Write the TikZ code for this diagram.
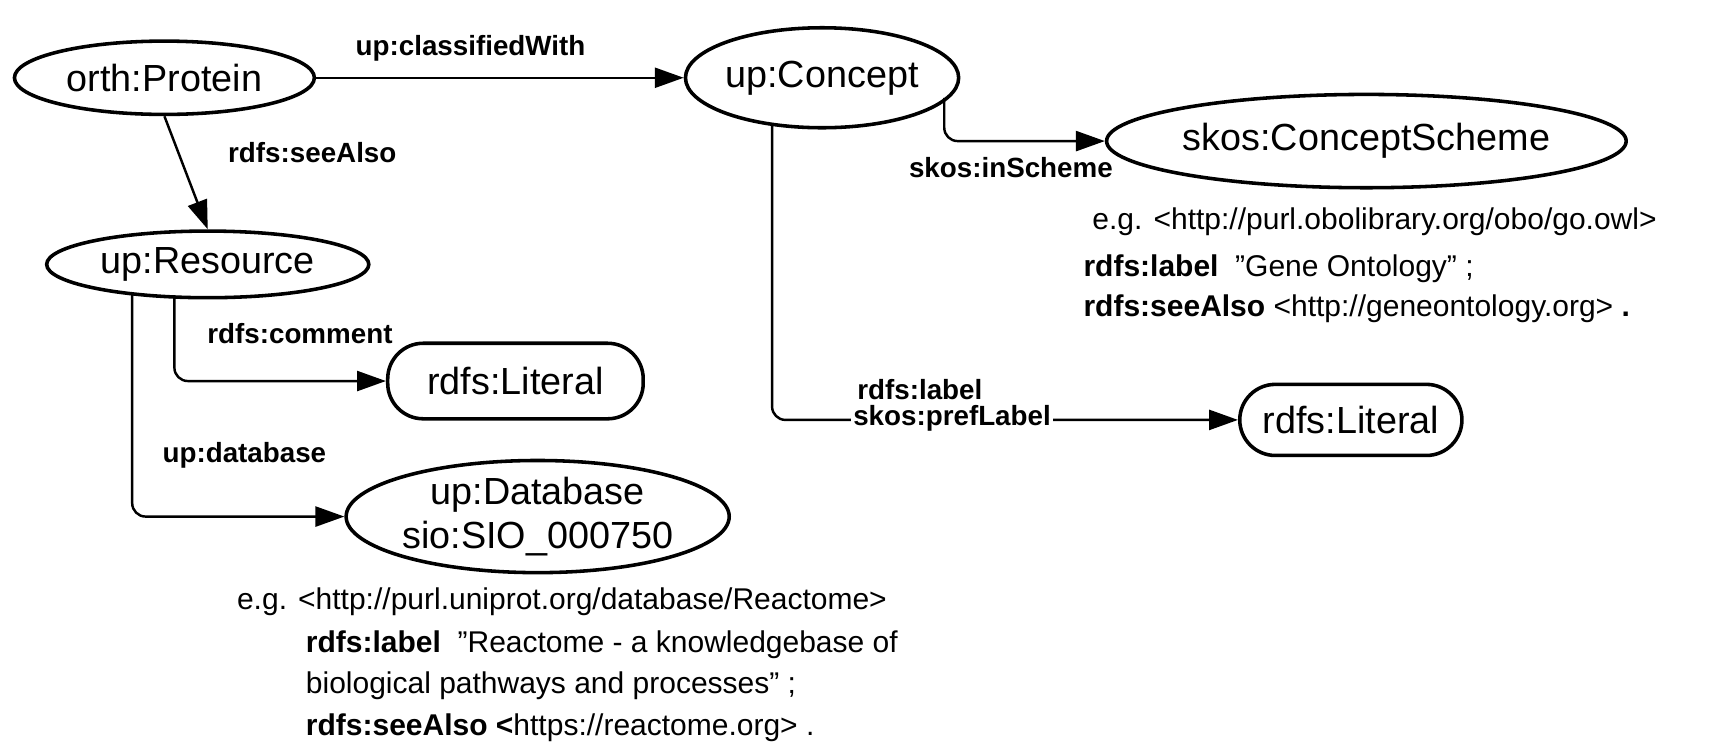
\documentclass[tikz,border=0pt]{standalone}
\usepackage{fontspec}
\setmainfont{Liberation Sans}
\usetikzlibrary{shapes.geometric,arrows.meta}
\newcommand{\dq}{{\char34}}
\begin{document}
\begin{tikzpicture}[x=0.5pt,y=-0.5pt,
  ell/.style={draw,ellipse,line width=1.6pt,inner sep=0pt,font=\fontsize{17}{19}\selectfont},
  lit/.style={draw,rounded corners=16pt,line width=1.6pt,font=\fontsize{17}{19}\selectfont,minimum height=34pt},
  arr/.style={line width=1.1pt,-{Triangle[length=13pt,width=9pt]},rounded corners=6pt},
  lbl/.style={font=\bfseries\fontsize{12.5}{14}\selectfont,inner sep=1pt},
  txt/.style={font=\fontsize{13.5}{15}\selectfont,anchor=west,inner sep=0pt}]
\useasboundingbox (0,0) rectangle (1560,673);
\node[ell,minimum width=135pt,minimum height=33pt] (prot) at (148,70) {orth:Protein};
\node[ell,minimum width=110pt,minimum height=45pt] (conc) at (740,70) {up:Concept};
\node[ell,minimum width=210pt,minimum height=42pt] (sch) at (1230,127) {skos:ConceptScheme};
\node[ell,minimum width=145pt,minimum height=30pt] (res) at (187,238) {up:Resource};
\node[lit,minimum width=115pt] (lit1) at (464,343) {rdfs:Literal};
\node[lit,minimum width=100pt,minimum height=32pt] (lit2) at (1216,378) {rdfs:Literal};
\node[ell,minimum width=155pt,minimum height=48pt,align=center,font=\fontsize{17}{20}\selectfont] (db) at (484,465) {up:Database\\sio:SIO\_000750};
\draw[arr] (prot.east) -- (conc.west) node[lbl,pos=0.42,above=6pt] {up:classifiedWith};
\draw[arr] (prot.south) -- (res.north);
\node[lbl,anchor=west] at (203,137) {rdfs:seeAlso};
\coordinate (c1) at (850,88);
\draw[arr] (c1) |- (sch.west);
\node[lbl] at (910,151) {skos:inScheme};
\coordinate (c2) at (695,112);
\draw[arr] (c2) |- (lit2.west);
\node[lbl] at (828,351) {rdfs:label};
\node[lbl,fill=white] at (857,377) {skos:prefLabel};
\coordinate (r1) at (157,266);
\draw[arr] (r1) |- (lit1.west);
\node[lbl] at (270,300) {rdfs:comment};
\coordinate (r2) at (119,265);
\draw[arr] (r2) |- (db.west);
\node[lbl] at (220,410) {up:database};
\node[txt] (t1) at (983,200) {e.g. <http://purl.obolibrary.org/obo/go.owl>};
\node[txt] (t2) at (975,242) {\textbf{rdfs:label}\ \ \dq Gene Ontology\dq{} ;};
\node[txt] (t3) at (975,278) {\textbf{rdfs:seeAlso} <http://geneontology.org> \textbf{.}};
\node[txt] (t4) at (213,542) {e.g. <http://purl.uniprot.org/database/Reactome>};
\node[txt] (t5) at (275,580) {\textbf{rdfs:label}\ \ \dq Reactome - a knowledgebase of};
\node[txt] (t6) at (275,617) {biological pathways and processes\dq{} ;};
\node[txt] (t7) at (275,655) {\textbf{rdfs:seeAlso <}https://reactome.org> .};
\end{tikzpicture}
\end{document}
